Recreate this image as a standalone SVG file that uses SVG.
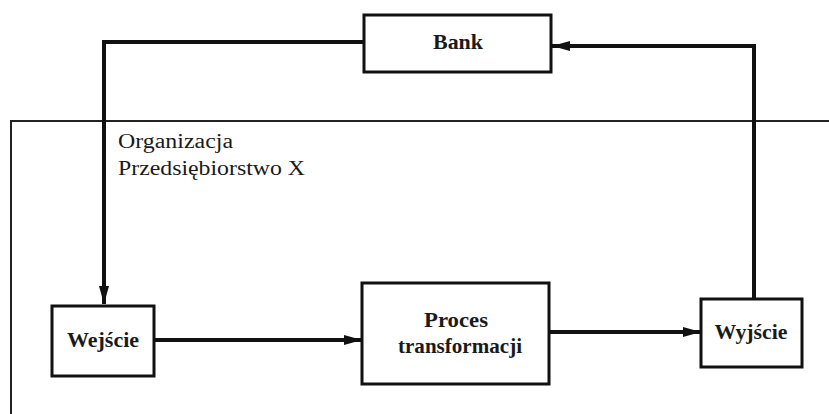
<svg xmlns="http://www.w3.org/2000/svg" width="829" height="414" viewBox="0 0 829 414">
<defs>
<style>
.box{fill:#fff;stroke:#111;stroke-width:3}
.org{fill:none;stroke:#222;stroke-width:2}
.lbl{font-family:"Liberation Serif",serif;font-size:21px;font-weight:bold;fill:#1a1a1a;text-anchor:middle}
.org-t{font-family:"Liberation Serif",serif;font-size:20px;fill:#1a1a1a}
.con{fill:none;stroke:#111;stroke-width:4}
</style>
<marker id="ah" markerWidth="18" markerHeight="10" refX="18" refY="5" orient="auto" markerUnits="userSpaceOnUse">
<path d="M0,0 L18,5 L0,10 Z" fill="#111"/>
</marker>
</defs>
<rect width="829" height="414" fill="#fff"/>
<g id="organizacja">
<rect class="org" x="11" y="121" width="830" height="300"/>
<text class="org-t" x="118" y="148" textLength="115" lengthAdjust="spacingAndGlyphs">Organizacja</text>
<text class="org-t" x="118" y="175" textLength="187" lengthAdjust="spacingAndGlyphs">Przedsiębiorstwo X</text>
</g>
<g id="connectors">
<path class="con" d="M364,42 H104 V304" marker-end="url(#ah)"/>
<path class="con" d="M154,340 H362" marker-end="url(#ah)"/>
<path class="con" d="M550,332 H701" marker-end="url(#ah)"/>
<path class="con" d="M754,298 V46 H552" marker-end="url(#ah)"/>
</g>
<g id="bank">
<rect class="box" x="364" y="15" width="187" height="57"/>
<text class="lbl" x="458" y="49" style="font-size:22px" textLength="50" lengthAdjust="spacingAndGlyphs">Bank</text>
</g>
<g id="wejscie">
<rect class="box" x="52" y="306" width="102" height="70"/>
<text class="lbl" x="103" y="347" style="font-size:22px" textLength="72" lengthAdjust="spacingAndGlyphs">Wejście</text>
</g>
<g id="proces">
<rect class="box" x="362" y="283" width="187" height="101"/>
<text class="lbl" x="456" y="327" textLength="64" lengthAdjust="spacingAndGlyphs">Proces</text>
<text class="lbl" x="460" y="353" textLength="124" lengthAdjust="spacingAndGlyphs">transformacji</text>
</g>
<g id="wyjscie">
<rect class="box" x="701" y="299" width="101" height="68"/>
<text class="lbl" x="751" y="339" style="font-size:22px" textLength="73" lengthAdjust="spacingAndGlyphs">Wyjście</text>
</g>
</svg>
